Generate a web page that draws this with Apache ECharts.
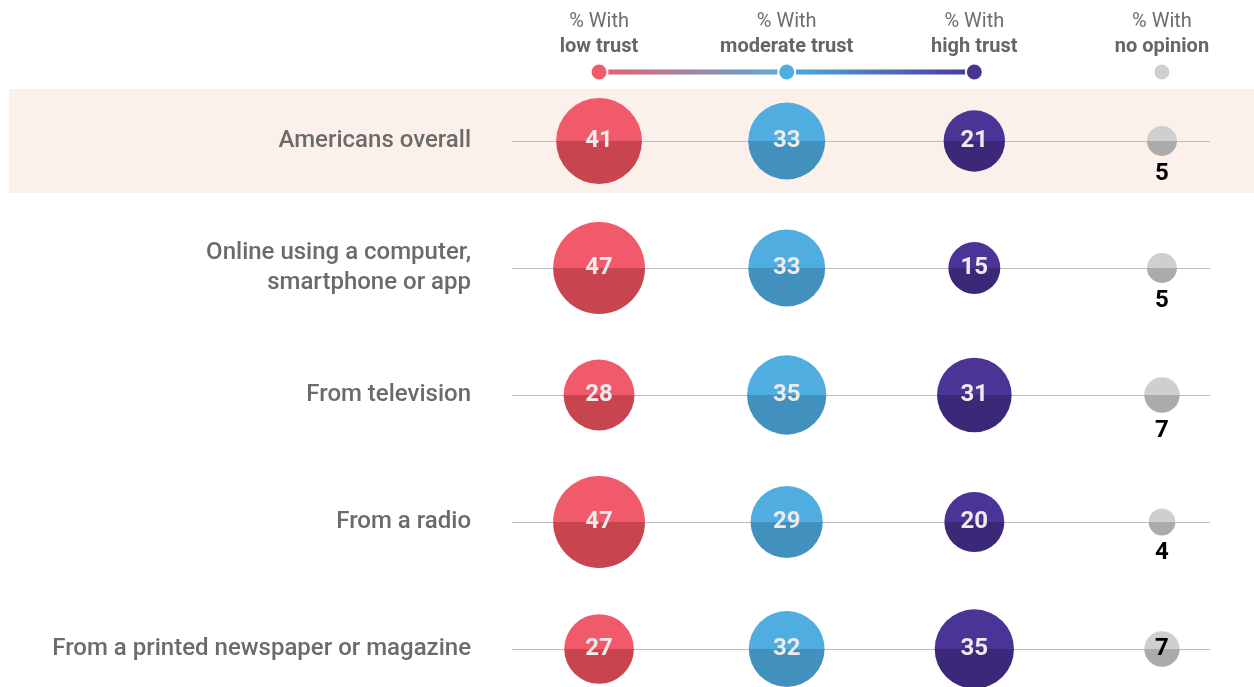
<!DOCTYPE html>
<html>
<head>
<meta charset="utf-8">
<script src="https://cdn.jsdelivr.net/npm/echarts@6/dist/echarts.min.js"></script>
<style>
  html, body { margin: 0; padding: 0; background: #fff; }
  #main { width: 1254px; height: 687px; }
</style>
</head>
<body>
<div id="main"></div>
<script>
// rows (top to bottom)
const sources = [
  "Americans overall",
  "Online using a computer,\nsmartphone or app",
  "From television",
  "From a radio",
  "From a printed newspaper or magazine"
];
// column headers
const trustLevels = ["low trust", "moderate trust", "high trust", "no opinion"];
// values per column, same order as sources
const lowTrust = [41, 47, 28, 47, 27];
const moderateTrust = [33, 33, 35, 29, 32];
const highTrust = [21, 15, 31, 20, 35];
const noOpinion = [5, 5, 7, 4, 7];

const palette = [
  ["#f05a6a", "#c8454f"],
  ["#4fade0", "#4290bd"],
  ["#4a3596", "#3b2878"],
  ["#cfcfcf", "#ababab"]
];

const halfFill = (c) => new echarts.graphic.LinearGradient(0, 0, 0, 1, [
  { offset: 0, color: c[0] },
  { offset: 0.5, color: c[0] },
  { offset: 0.5, color: c[1] },
  { offset: 1, color: c[1] }
]);

const makeBubbles = (vals, col) => ({
  type: "scatter",
  xAxisIndex: 0,
  yAxisIndex: 0,
  z: 3,
  data: vals.map((v, i) => {
    const item = { value: [col, sources[i], v] };
    // last row of "no opinion" has its number inside the bubble
    if (col === 3 && i === vals.length - 1) {
      item.label = { position: "inside", distance: 0 };
    }
    return item;
  }),
  symbolSize: (d) => 13.4 * Math.sqrt(d[2]),
  itemStyle: { color: halfFill(palette[col]), opacity: 1 },
  label: {
    show: true,
    position: col === 3 ? "bottom" : "inside",
    distance: 6,
    formatter: (p) => p.value[2],
    color: col === 3 ? "#000" : "#ececec",
    fontFamily: "Roboto",
    fontWeight: "bold",
    fontSize: 24
  },
  emphasis: { disabled: true }
});

const myChart = echarts.init(document.getElementById("main"));
myChart.setOption({
  backgroundColor: "#fff",
  animation: false,
  graphic: [
    {
      type: "rect",
      z: -10,
      silent: true,
      shape: { x: 9, y: 89, width: 1245, height: 104 },
      style: { fill: "#fcf0eb" }
    }
  ],
  grid: [
    { left: 512, right: 44, top: 141, bottom: 38 },
    { left: 512, right: 44, top: 62, height: 20 }
  ],
  xAxis: [
    {
      type: "value",
      gridIndex: 0,
      position: "top",
      min: -0.464,
      max: 3.256,
      axisLine: { show: false },
      axisTick: { show: false },
      splitLine: { show: false },
      axisLabel: {
        customValues: [0, 1, 2, 3],
        margin: 82,
        formatter: (v) => "{a|% With}\n{b|" + trustLevels[Math.round(v)] + "}",
        rich: {
          a: { fontSize: 20, color: "#6e6e6e", fontFamily: "Roboto", lineHeight: 25 },
          b: { fontSize: 20, color: "#666", fontFamily: "Roboto", fontWeight: "bold", lineHeight: 25 }
        }
      }
    },
    {
      type: "value",
      gridIndex: 1,
      min: -0.464,
      max: 3.256,
      show: false
    }
  ],
  yAxis: [
    {
      type: "category",
      gridIndex: 0,
      data: sources,
      inverse: true,
      boundaryGap: false,
      axisLine: { show: false },
      axisTick: { show: false },
      splitLine: { show: true, lineStyle: { color: "#bdbdbd", width: 1 } },
      axisLabel: {
        margin: 41,
        fontSize: 24,
        lineHeight: 30,
        color: "#6b6b6b",
        fontFamily: "Roboto",
        fontWeight: 500,
        align: "right"
      }
    },
    { type: "value", gridIndex: 1, min: -1, max: 1, show: false }
  ],
  series: [
    {
      type: "line",
      xAxisIndex: 1,
      yAxisIndex: 1,
      data: [
        { value: [0, 0], itemStyle: { color: palette[0][0] } },
        { value: [1, 0], itemStyle: { color: palette[1][0] } },
        { value: [2, 0], itemStyle: { color: palette[2][0] } }
      ],
      symbol: "circle",
      symbolSize: 17,
      showAllSymbol: true,
      itemStyle: { borderColor: "#fff", borderWidth: 2 },
      lineStyle: {
        width: 5,
        color: new echarts.graphic.LinearGradient(0, 0, 1, 0, [
          { offset: 0, color: palette[0][0] },
          { offset: 0.5, color: palette[1][0] },
          { offset: 1, color: palette[2][0] }
        ])
      },
      emphasis: { disabled: true }
    },
    {
      type: "scatter",
      xAxisIndex: 1,
      yAxisIndex: 1,
      data: [[3, 0]],
      symbolSize: 17,
      itemStyle: { color: palette[3][0], borderColor: "#fff", borderWidth: 2, opacity: 1 },
      emphasis: { disabled: true }
    },
    makeBubbles(lowTrust, 0),
    makeBubbles(moderateTrust, 1),
    makeBubbles(highTrust, 2),
    makeBubbles(noOpinion, 3)
  ]
});
</script>
</body>
</html>
